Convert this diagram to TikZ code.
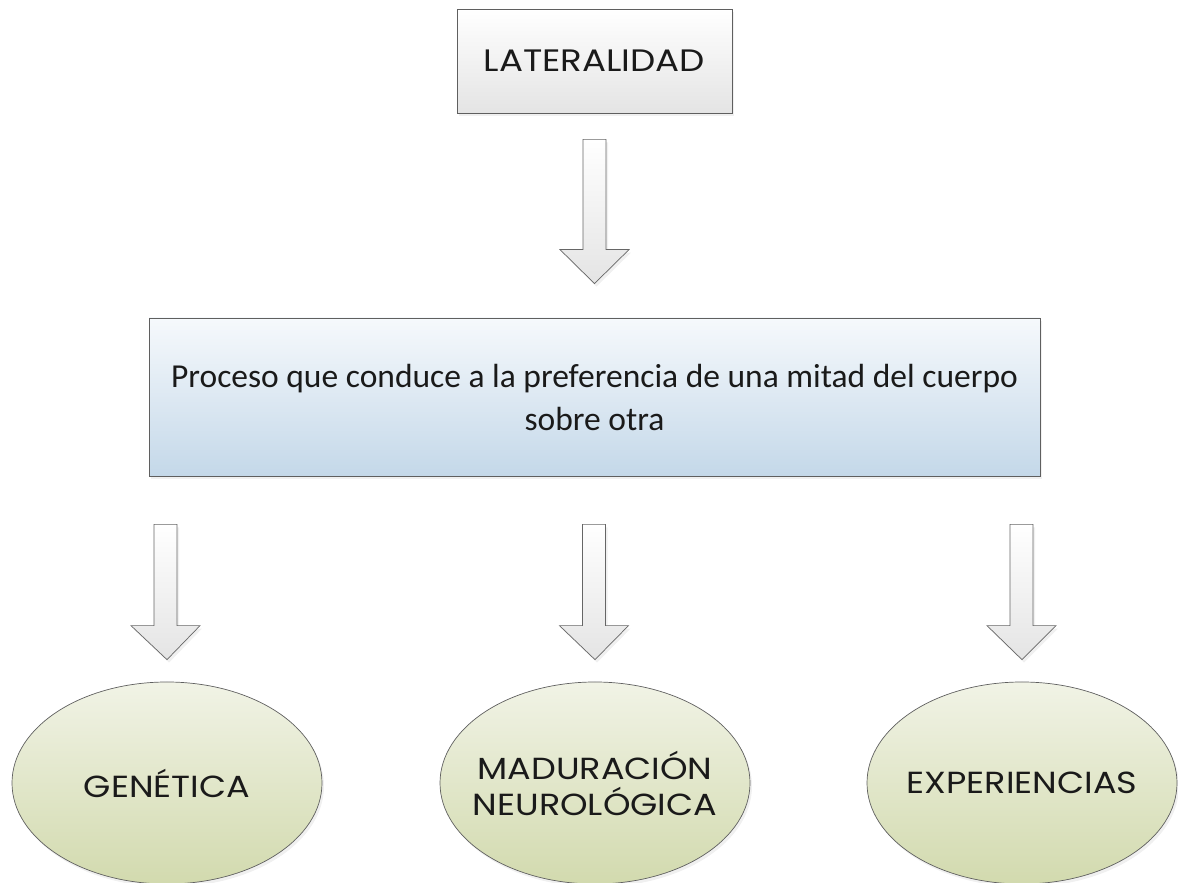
\documentclass[tikz,border=0pt]{standalone}
\usepackage{fontspec}
\setmainfont{Carlito}
\newfontfamily\gothic{Poppins}[FakeStretch=1.15]
\usetikzlibrary{calc,shapes.geometric,shadows}
\definecolor{edgegray}{HTML}{5F5F5F}
\definecolor{txt}{HTML}{1A1A1A}
\definecolor{bluetop}{HTML}{F6F9FC}
\definecolor{bluebot}{HTML}{C4D8E9}
\definecolor{greentop}{HTML}{F1F3E6}
\definecolor{greenbot}{HTML}{D2DAAE}
\definecolor{graybot}{HTML}{E4E4E4}
\tikzset{
  shadowed/.style={drop shadow={opacity=0.12,shadow xshift=2pt,shadow yshift=-3pt}},
  titlebox/.style={draw=edgegray,line width=0.8pt,top color=white,bottom color=graybot,
    minimum width=275pt,minimum height=104pt,inner sep=0pt,shadowed,
    font=\gothic\fontsize{31}{36}\selectfont,text=txt},
  mainbox/.style={draw=edgegray,line width=0.8pt,top color=bluetop,bottom color=bluebot,
    minimum width=891pt,minimum height=158pt,inner sep=0pt,shadowed,
    font=\fontsize{33.5}{43}\selectfont,text=txt,align=center},
  leaf/.style={ellipse,draw=edgegray,line width=0.7pt,top color=greentop,bottom color=greenbot,
    minimum width=310pt,minimum height=202pt,inner sep=0pt,shadowed},
  leaftext/.style={font=\gothic\fontsize{30.5}{36}\selectfont,text=txt,align=center,inner sep=0pt}
}
\tikzset{fatarrowstyle/.style={draw=gray!80!black,line width=0.7pt,top color=white,bottom color=graybot,shadowed}}
\newcommand\fatarrow[2]{%
  \path let \p1=#1, \p2=#2 in [fatarrowstyle]
    (\x1-11.5pt,\y1) -- (\x1+11.5pt,\y1) -- (\x1+11.5pt,\y2+34pt) -- (\x1+34.5pt,\y2+34pt)
    -- (\x2,\y2) -- (\x1-34.5pt,\y2+34pt) -- (\x1-11.5pt,\y2+34pt) -- cycle;}
\begin{document}
\begin{tikzpicture}[x=1pt,y=1pt]
\useasboundingbox (0,0) rectangle (1178,883);
\node[titlebox] (lat) at (594.5,822) {LATERALIDAD};
\node[mainbox] (main) at (594.5,486) {Proceso que conduce a la preferencia de una mitad del cuerpo\\sobre otra};
\node[leaf] (gen) at (167,100) {};
\node[leaftext] (gent) at (gen.center) {GENÉTICA};
\node[leaf] (mad) at (595,100) {};
\node[leaftext] (madt) at (mad.center) {MADURACIÓN\\NEUROLÓGICA};
\node[leaf] (exp) at (1022,100) {};
\node[leaftext] (expt) at (exp.center) {EXPERIENCIAS};
\fatarrow{($(lat.south)+(0,-26)$)}{($(main.north)+(0,34)$)}
\fatarrow{($(gen.north |- main.south)+(-1.5,-48)$)}{($(gen.north)+(0,22)$)}
\fatarrow{($(mad.north |- main.south)+(-1,-48)$)}{($(mad.north)+(0,22)$)}
\fatarrow{($(exp.north |- main.south)+(-0.5,-48)$)}{($(exp.north)+(0,22)$)}
\end{tikzpicture}
\end{document}
